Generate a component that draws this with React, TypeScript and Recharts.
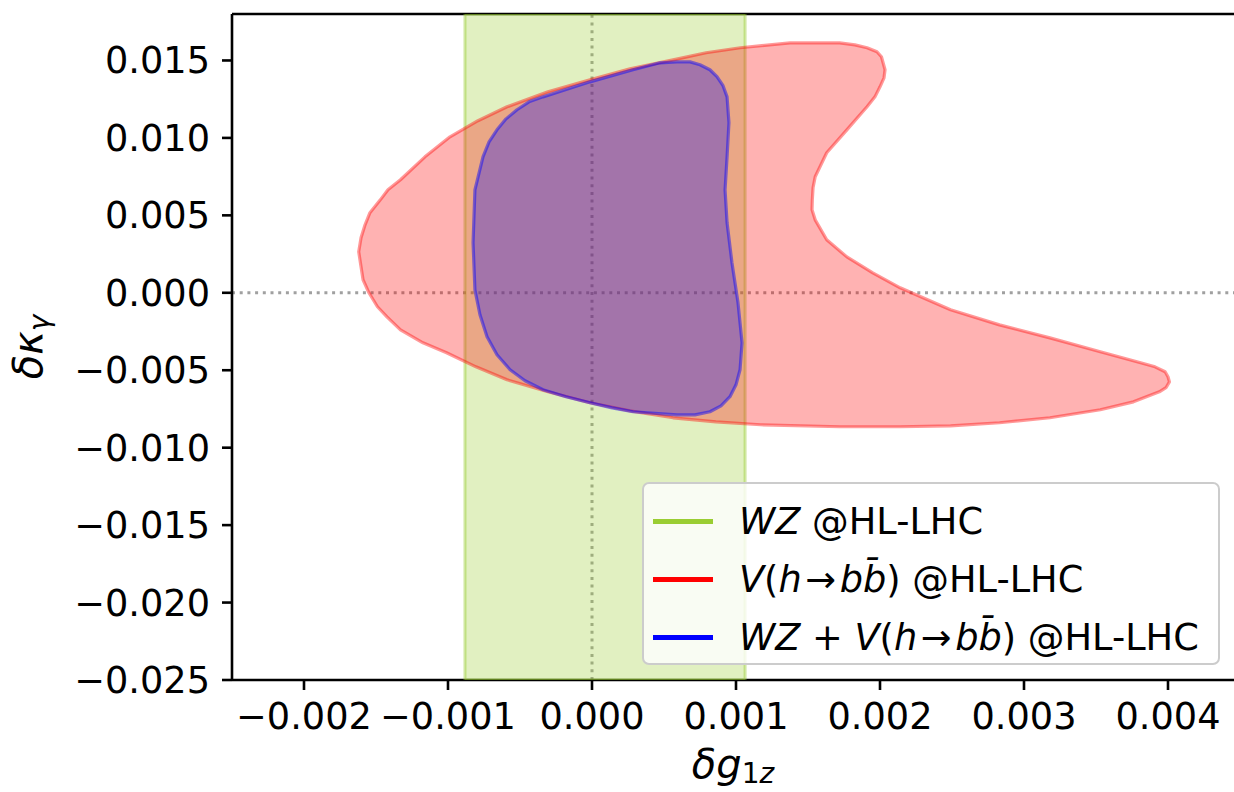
import React from 'react';
import { ScatterChart, Scatter, XAxis, YAxis, ReferenceLine, Legend, Label } from 'recharts';

// contour of V(h->bb) (outer, red)
const redX = [
  -0.00162, -0.001604, -0.001576, -0.001542, -0.00147, -0.001417, -0.00133, -0.00116, -0.000986, -0.000792,
  -0.00059, -0.000306, -0.000014, 0.000264, 0.000563, 0.000792, 0.00103, 0.001375, 0.00172, 0.001826,
  0.00191, 0.001979, 0.00201, 0.002035, 0.002028, 0.0020, 0.001965, 0.00191, 0.00177, 0.00163,
  0.00155, 0.001535, 0.00153, 0.001528, 0.00155, 0.00163, 0.00177, 0.00195, 0.00214, 0.00249,
  0.00283, 0.00318, 0.00353, 0.00381, 0.00391, 0.00398, 0.0040, 0.00401, 0.003986, 0.00394,
  0.00376, 0.00353, 0.00318, 0.00283, 0.00249, 0.00214, 0.00172, 0.00117, 0.000861, 0.000563,
  0.000264, -0.000014, -0.000306, -0.00059, -0.000806, -0.00101, -0.001174, -0.00133, -0.001424, -0.00149,
  -0.001549, -0.00159, -0.001604,
];
const redY = [
  0.00265, 0.00355, 0.00439, 0.00517, 0.0060, 0.00665, 0.0073, 0.00878, 0.01007, 0.01111,
  0.01201, 0.01298, 0.01375, 0.01446, 0.01504, 0.0155, 0.01582, 0.01614, 0.01614, 0.01601,
  0.01582, 0.01556, 0.01524, 0.0144, 0.01388, 0.0133, 0.01265, 0.01201, 0.01052, 0.00904,
  0.00749, 0.00678, 0.0060, 0.00536, 0.00471, 0.00342, 0.00232, 0.00129, 0.00032, -0.0011,
  -0.00207, -0.00291, -0.00381, -0.00452, -0.00478, -0.0051, -0.00542, -0.00575, -0.00613, -0.00639,
  -0.00704, -0.00755, -0.00807, -0.00839, -0.00859, -0.00865, -0.00865, -0.00852, -0.00833, -0.00807,
  -0.00762, -0.0071, -0.00639, -0.00562, -0.00478, -0.00387, -0.00323, -0.00239, -0.00155, -0.0009,
  0, 0.00084, 0.00168,
];

// combined WZ + V(h->bb) contour (blue)
const blueX = [
  0.00059, 0.000681, 0.00075, 0.000819, 0.000868, 0.00091, 0.000938, 0.000951, 0.000938, 0.000924,
  0.000938, 0.000972, 0.001014, 0.001042, 0.001028, 0.0010, 0.000958, 0.000896, 0.000819, 0.000715,
  0.00059, 0.000285, 0.000139, -0.000014, -0.000181, -0.00034, -0.000465, -0.000569, -0.00066, -0.000729,
  -0.000778, -0.000813, -0.000826, -0.000813, -0.000757, -0.000715, -0.00066, -0.000597, -0.000521, -0.0004375,
  -0.00034, -0.000014, 0.000285, 0.000472,
];
const blueY = [
  0.01491, 0.01491, 0.01472, 0.0144, 0.01395, 0.01337, 0.01265, 0.01098, 0.00878, 0.00665,
  0.00452, 0.00194, -0.00065, -0.00323, -0.00497, -0.00594, -0.00671, -0.0073, -0.00768, -0.00788,
  -0.00788, -0.00768, -0.00743, -0.0071, -0.00671, -0.00626, -0.00568, -0.00497, -0.004, -0.00284,
  -0.00142, 0.00019, 0.00323, 0.00665, 0.00878, 0.00975, 0.01052, 0.01123, 0.01182, 0.01233,
  0.01265, 0.01362, 0.0144, 0.01485,
];

// WZ band in delta g1z
const wzBand = [-0.000882, 0.001063];

const xDomain = [-0.0025, 0.0045];
const yDomain = [-0.025, 0.018];
const xTicks = [-0.002, -0.001, 0, 0.001, 0.002, 0.003, 0.004];
const yTicks = [-0.025, -0.02, -0.015, -0.01, -0.005, 0, 0.005, 0.01, 0.015];

const legendColors = ['#9acd32', '#ff0000', '#0000ff'];

const toPoints = (xs: number[], ys: number[]) => xs.map((x, i) => ({ x, y: ys[i] }));
const redData = toPoints(redX, redY);
const blueData = toPoints(blueX, blueY);
const bandData = [
  { x: wzBand[0], y: yDomain[0] },
  { x: wzBand[0], y: yDomain[1] },
  { x: wzBand[1], y: yDomain[1] },
  { x: wzBand[1], y: yDomain[0] },
];

const FONT = '"DejaVu Sans", sans-serif';
const fmt = (v: number) => v.toFixed(3).replace('-', '\u2212');
const noDot = () => <g />;

const tickStyle = { fill: '#000', fontSize: 36.7, fontFamily: FONT };

const LegendBox = () => {
  const labels = [
    <><i>WZ</i> @HL-LHC</>,
    <><i>V</i>(<i>h</i>&#8202;→&#8202;<i>b</i><i>b&#772;</i>) @HL-LHC</>,
    <><i>WZ</i> + <i>V</i>(<i>h</i>&#8202;→&#8202;<i>b</i><i>b&#772;</i>) @HL-LHC</>,
  ];
  return (
    <div style={{
      width: 578, height: 183, boxSizing: 'border-box', background: 'rgba(255,255,255,0.8)',
      border: '2px solid #cccccc', borderRadius: 7, fontFamily: FONT, fontSize: 36.7,
      paddingTop: 8,
    }}>
      {labels.map((lab, i) => (
        <div key={i} style={{ display: 'flex', alignItems: 'center', height: 58 }}>
          <div style={{ width: 60, height: 5, background: legendColors[i], marginLeft: 9, marginRight: 26 }} />
          <span style={{ whiteSpace: 'nowrap' }}>{lab}</span>
        </div>
      ))}
    </div>
  );
};

const YLabel = (props: any) => {
  const vb = props.viewBox;
  const cx = 42;
  const cy = vb.y + vb.height / 2;
  return (
    <text x={cx} y={cy} transform={`rotate(-90, ${cx}, ${cy})`} textAnchor="middle"
      fontFamily={FONT} fontSize={40} fontStyle="italic" fill="#000">
      δκ<tspan fontSize={28} dy={7}>γ</tspan>
    </text>
  );
};

const XLabel = (props: any) => {
  const vb = props.viewBox;
  const cx = vb.x + vb.width / 2 - 3;
  return (
    <text x={cx} y={778} textAnchor="middle" fontFamily={FONT} fontSize={40} fill="#000">
      <tspan fontStyle="italic">δg</tspan><tspan fontSize={28} dy={5}>1</tspan><tspan fontSize={28} fontStyle="italic">z</tspan>
    </text>
  );
};

export default function App() {
  return (
    <div style={{ position: 'absolute', left: 0, top: 0, width: 1234, height: 792, overflow: 'hidden', background: '#fff' }}>
      <ScatterChart width={1262} height={792} margin={{ top: 0, right: 22, bottom: 0, left: 0 }}>
        <XAxis xAxisId="top" orientation="top" type="number" domain={xDomain} ticks={xTicks}
          allowDataOverflow height={14} tick={false} tickSize={10}
          axisLine={{ stroke: '#000', strokeWidth: 2.6 }} tickLine={{ stroke: '#000', strokeWidth: 2.6 }} />
        <XAxis dataKey="x" type="number" domain={xDomain} ticks={xTicks} allowDataOverflow height={112}
          tickFormatter={fmt} tick={tickStyle} tickSize={10} tickMargin={13}
          axisLine={{ stroke: '#000', strokeWidth: 2.6 }} tickLine={{ stroke: '#000', strokeWidth: 2.6 }}>
          <Label content={XLabel} />
        </XAxis>
        <YAxis dataKey="y" type="number" domain={yDomain} ticks={yTicks} allowDataOverflow width={232}
          tickFormatter={fmt} tick={tickStyle} tickSize={10} tickMargin={12}
          axisLine={{ stroke: '#000', strokeWidth: 2.6 }} tickLine={{ stroke: '#000', strokeWidth: 2.6 }}>
          <Label content={YLabel} />
        </YAxis>
        <Scatter data={bandData} isAnimationActive={false} shape={noDot} lineJointType="linearClosed"
          line={{ fill: '#9acd32', fillOpacity: 0.3, stroke: '#9acd32', strokeOpacity: 0.45, strokeWidth: 3 }} />
        <Scatter data={redData} isAnimationActive={false} shape={noDot} lineJointType="linearClosed"
          line={{ fill: '#ff0000', fillOpacity: 0.3, stroke: '#ff0000', strokeOpacity: 0.4, strokeWidth: 3.2, strokeLinejoin: 'round' }} />
        <Scatter data={blueData} isAnimationActive={false} shape={noDot} lineJointType="linearClosed"
          line={{ fill: '#0000ff', fillOpacity: 0.3, stroke: '#0000ff', strokeOpacity: 0.45, strokeWidth: 3.2, strokeLinejoin: 'round' }} />
        <ReferenceLine x={0} stroke="#a0a0a0" strokeWidth={3} strokeDasharray="3 4.7" />
        <ReferenceLine y={0} stroke="#a0a0a0" strokeWidth={3} strokeDasharray="3 4.7" />
        <Legend content={LegendBox} layout="horizontal" verticalAlign="middle" align="center"
          wrapperStyle={{ left: 642, top: 482, width: 578 }} />
      </ScatterChart>
    </div>
  );
}
